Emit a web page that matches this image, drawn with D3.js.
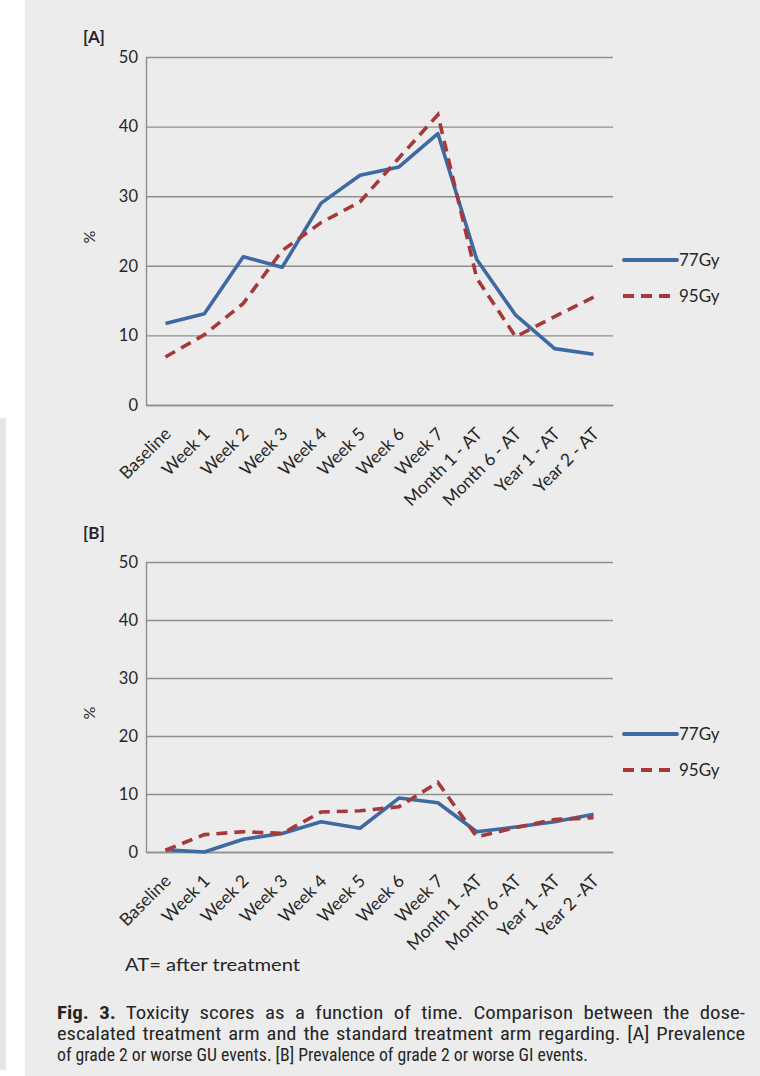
<!DOCTYPE html>
<html>
<head>
<meta charset="utf-8">
<script src="https://cdn.jsdelivr.net/npm/d3@7"></script>
<style>
  html, body { margin: 0; padding: 0; background: #ffffff; }
  svg { display: block; }
  text { font-family: Lato, "Open Sans", "Liberation Sans", sans-serif; fill: #262626; }
</style>
</head>
<body>
<svg id="fig" width="760" height="1076"></svg>
<script>
// Time points (GU panel and GI panel use slightly different label spelling)
const categoriesA = ["Baseline", "Week 1", "Week 2", "Week 3", "Week 4", "Week 5", "Week 6", "Week 7",
                     "Month 1 - AT", "Month 6 - AT", "Year 1 - AT", "Year 2 - AT"];
const categoriesB = ["Baseline", "Week 1", "Week 2", "Week 3", "Week 4", "Week 5", "Week 6", "Week 7",
                     "Month 1 -AT", "Month 6 -AT", "Year 1 -AT", "Year 2 -AT"];

// [A] grade >= 2 GU events, % of patients
const gu77 = [11.7, 13.1, 21.3, 19.8, 29.0, 33.0, 34.2, 39.0, 20.9, 12.9, 8.1, 7.3];
const gu95 = [6.9, 10.1, 14.6, 22.2, 26.2, 29.2, 35.5, 41.7, 18.2, 9.8, 12.7, 15.5];

// [B] grade >= 2 GI events, % of patients
const gi77 = [0.4, 0.0, 2.2, 3.2, 5.2, 4.1, 9.3, 8.5, 3.5, 4.3, 5.2, 6.5];
const gi95 = [0.3, 3.0, 3.5, 3.2, 6.9, 7.1, 7.8, 12.0, 2.6, 4.2, 5.6, 5.9];

const seriesNames = ["77Gy", "95Gy"];
const yTicks = [0, 10, 20, 30, 40, 50];
const noteText = "AT= after treatment";
const captionLines = [
  ["Fig. 3.", " Toxicity scores as a function of time. Comparison between the dose-"],
  ["", "escalated treatment arm and the standard treatment arm regarding. [A] Prevalence"],
  ["", "of grade 2 or worse GU events. [B] Prevalence of grade 2 or worse GI events."]
];

const BLUE = "#3d6aa3";
const RED = "#a5393a";
const GRID = "#8e8e8e";
const LABEL_FONT = "Lato, 'Open Sans', sans-serif";

const svg = d3.select("#fig");

// page background
svg.append("rect").attr("x", 25).attr("y", 0).attr("width", 735).attr("height", 1076).attr("fill", "#ececec");
svg.append("rect").attr("x", 0).attr("y", 418).attr("width", 6).attr("height", 652).attr("fill", "#e6e6e6");

function panel(opts) {
  const { tag, tagY, top, bottom, cats, s77, s95, legendY } = opts;
  const left = 146, right = 613;

  const x = d3.scalePoint().domain(cats).range([left, right]).padding(0.5);
  const y = d3.scaleLinear().domain([0, 50]).range([bottom, top]);

  const g = svg.append("g");

  // horizontal gridlines + y labels
  const yAxis = g.append("g")
    .attr("transform", `translate(${left},0)`)
    .call(d3.axisLeft(y).tickValues(yTicks).tickSize(-(right - left)).tickSizeOuter(0).tickPadding(8));
  yAxis.select(".domain").attr("stroke", GRID).attr("stroke-width", 1.4);
  yAxis.selectAll(".tick line").attr("stroke", GRID).attr("stroke-width", 1.4);
  yAxis.selectAll(".tick text")
    .attr("font-size", 16.5).attr("fill", "#262626")
    .style("font-family", LABEL_FONT);

  // x axis with slanted labels
  const xAxis = g.append("g")
    .attr("transform", `translate(0,${bottom})`)
    .call(d3.axisBottom(x).tickSize(0).tickSizeOuter(0));
  xAxis.select(".domain").attr("stroke", GRID).attr("stroke-width", 1.4);
  xAxis.selectAll(".tick text")
    .attr("font-size", 17.5).attr("fill", "#262626")
    .style("font-family", LABEL_FONT)
    .attr("text-anchor", "end")
    .attr("x", 0).attr("y", 0).attr("dy", 0)
    .attr("transform", "translate(6,30) rotate(-45)");

  // panel tag
  g.append("text").attr("x", 83).attr("y", tagY)
    .attr("font-size", 17).attr("font-weight", "bold").text(tag);

  // y title
  g.append("text")
    .attr("transform", `translate(95,${(top + bottom) / 2 + 6}) rotate(-90)`)
    .attr("text-anchor", "middle").attr("font-size", 16).text("%");

  const line = d3.line().x((d, i) => x(cats[i])).y(d => y(d));

  g.append("path").datum(s77).attr("d", line)
    .attr("fill", "none").attr("stroke", BLUE).attr("stroke-width", 3.6)
    .attr("stroke-linejoin", "round");
  g.append("path").datum(s95).attr("d", line)
    .attr("fill", "none").attr("stroke", RED).attr("stroke-width", 3.6)
    .attr("stroke-dasharray", "11,7");

  // legend
  const leg = g.append("g");
  leg.append("line").attr("x1", 624).attr("x2", 677).attr("y1", legendY).attr("y2", legendY)
    .attr("stroke", BLUE).attr("stroke-width", 4).attr("stroke-linecap", "round");
  leg.append("text").attr("x", 679).attr("y", legendY + 6).attr("font-size", 17).text(seriesNames[0]);
  leg.append("line").attr("x1", 623).attr("x2", 672).attr("y1", legendY + 36).attr("y2", legendY + 36)
    .attr("stroke", RED).attr("stroke-width", 4).attr("stroke-dasharray", "11,7");
  leg.append("text").attr("x", 679).attr("y", legendY + 42).attr("font-size", 17).text(seriesNames[1]);
}

panel({ tag: "[A]", tagY: 43, top: 57, bottom: 405, cats: categoriesA, s77: gu77, s95: gu95, legendY: 260 });
panel({ tag: "[B]", tagY: 539, top: 562, bottom: 852, cats: categoriesB, s77: gi77, s95: gi95, legendY: 734 });

// abbreviation note
svg.append("text").attr("x", 125).attr("y", 971).attr("font-size", 18)
  .attr("textLength", 175).attr("lengthAdjust", "spacingAndGlyphs").text(noteText);

// caption: first two lines justified (wider word gaps, then glyphs eased to the column width)
const capTarget = [688, 688, 531];
const capWordGap = [5, 2, 0];
captionLines.forEach((parts, i) => {
  const t = svg.append("text")
    .attr("x", 57).attr("y", 1019 + i * 21)
    .attr("font-size", 18.5)
    .attr("word-spacing", capWordGap[i])
    .style("font-family", "'Liberation Sans Narrow', 'Roboto Condensed', 'Liberation Sans', sans-serif")
    .attr("fill", "#222");
  if (parts[0]) t.append("tspan").attr("font-weight", "bold").text(parts[0]);
  t.append("tspan").text(parts[1]);
  t.attr("textLength", capTarget[i]).attr("lengthAdjust", "spacingAndGlyphs");
});
</script>
</body>
</html>
